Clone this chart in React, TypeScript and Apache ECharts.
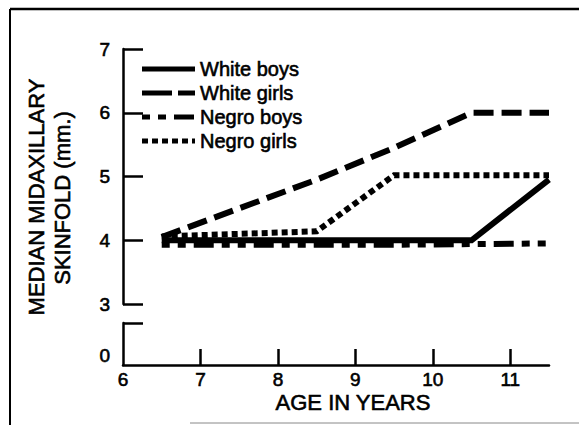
import React, { useEffect, useRef } from "react";
import * as echarts from "echarts";

const ages = [6.5, 7.5, 8.5, 9.5, 10.5, 11.5];
const whiteBoys = [4.0, 4.0, 4.0, 4.0, 4.0, 4.95];
const whiteGirls = [4.05, 4.5, 4.95, 5.45, 6.0, 6.0];
const negroBoys = [3.93, 3.93, 3.93, 3.93, 3.94, 3.95];
const negroGirls = [4.06, 4.1, 4.14, 5.02, 5.02, 5.02];
const xTickLabels = [6, 7, 8, 9, 10, 11];
const xTickMarks = [7, 8, 9, 10, 11];
const seriesNames = ["White boys", "White girls", "Negro boys", "Negro girls"];

const FONT = "'Liberation Sans', Arial, sans-serif";

export default function App() {
  const ref = useRef<HTMLDivElement>(null);
  useEffect(() => {
    if (!ref.current) return;
    const chart = echarts.init(ref.current, undefined, { renderer: "svg" });
    const pts = (vals: number[]) => ages.map((a, i) => [a, vals[i]]);
    const black = "#000";
    const lineBase = (name: string, vals: number[], type: any, width: number, z: number) => ({
      name,
      type: "line",
      xAxisIndex: 0,
      yAxisIndex: 0,
      data: pts(vals),
      symbol: "none",
      silent: true,
      z,
      lineStyle: { color: black, width, type, cap: "butt", join: "miter" },
      itemStyle: { color: black },
    });
    const heavy = { textBorderColor: black, textBorderWidth: 0.6 };
    const legendDashes: (number[] | null)[] = [null, [30, 6, 17], [8, 8, 8, 8, 20], [6, 4]];
    const legendGraphics: any[] = [];
    seriesNames.forEach((name, i) => {
      const y = 69 + i * 24;
      legendGraphics.push({
        type: "line",
        shape: { x1: 142, y1: y, x2: 195, y2: y },
        style: { stroke: black, lineWidth: 5, lineDash: legendDashes[i] || undefined, lineCap: "butt" },
      });
      legendGraphics.push({
        type: "text",
        x: 200,
        y,
        style: { text: name, font: `20px ${FONT}`, fill: black, stroke: black, lineWidth: 0.6, align: "left", verticalAlign: "middle" },
      });
    });
    chart.setOption({
      animation: false,
      backgroundColor: "#fff",
      textStyle: { fontFamily: FONT },
      grid: [
        { left: 123, right: 30, top: 49, height: 255 },
        { left: 123, right: 30, top: 323, height: 42 },
      ],
      xAxis: [
        { type: "value", gridIndex: 0, min: 6, max: 11.5, show: false },
        {
          type: "value",
          gridIndex: 1,
          min: 6,
          max: 11.5,
          axisLine: { show: true, onZero: false, lineStyle: { color: black, width: 2.5 } },
          axisTick: { show: true, inside: true, length: 16, customValues: xTickMarks, lineStyle: { color: black, width: 2.5 } },
          axisLabel: { show: true, customValues: xTickLabels, color: black, fontSize: 19, lineHeight: 19, margin: 5, fontFamily: FONT, ...heavy },
          splitLine: { show: false },
        },
      ],
      yAxis: [
        {
          type: "value",
          gridIndex: 0,
          min: 3,
          max: 7,
          interval: 1,
          axisLine: { show: true, lineStyle: { color: black, width: 2.5 } },
          axisTick: { show: true, inside: true, length: 20, lineStyle: { color: black, width: 2.5 } },
          axisLabel: { color: black, fontSize: 19, margin: 13, fontFamily: FONT, ...heavy },
          splitLine: { show: false },
        },
        {
          type: "value",
          gridIndex: 1,
          min: 0,
          max: 1,
          axisLine: { show: true, lineStyle: { color: black, width: 2.5 } },
          axisTick: { show: true, inside: true, length: 20, customValues: [1], lineStyle: { color: black, width: 2.5 } },
          axisLabel: { customValues: [0], color: black, fontSize: 19, margin: 13, verticalAlign: "bottom", fontFamily: FONT, ...heavy },
          splitLine: { show: false },
        },
      ],
      series: [
        lineBase(seriesNames[2], negroBoys, [8, 8, 8, 8, 20, 8], 6, 2),
        lineBase(seriesNames[0], whiteBoys, "solid", 6, 3),
        lineBase(seriesNames[1], whiteGirls, [20, 8], 6, 4),
        lineBase(seriesNames[3], negroGirls, [6, 4], 6, 5),
      ],
      graphic: [
        { type: "line", shape: { x1: 10, y1: 9, x2: 579, y2: 9 }, style: { stroke: black, lineWidth: 2.5 } },
        { type: "line", shape: { x1: 10, y1: 9, x2: 10, y2: 425 }, style: { stroke: black, lineWidth: 2 } },
        { type: "line", shape: { x1: 190, y1: 423, x2: 579, y2: 423 }, style: { stroke: "#888", lineWidth: 1 } },
        ...legendGraphics,
        {
          type: "text",
          x: 36,
          y: 197,
          rotation: Math.PI / 2,
          style: { text: "MEDIAN MIDAXILLARY", font: `22px ${FONT}`, fill: black, stroke: black, lineWidth: 0.6, align: "center", verticalAlign: "middle" },
        },
        {
          type: "text",
          x: 62,
          y: 198,
          rotation: Math.PI / 2,
          style: { text: "SKINFOLD (mm.)", font: `22px ${FONT}`, fill: black, stroke: black, lineWidth: 0.6, align: "center", verticalAlign: "middle" },
        },
        {
          type: "text",
          x: 353,
          y: 402,
          style: { text: "AGE IN YEARS", font: `22px ${FONT}`, fill: black, stroke: black, lineWidth: 0.6, align: "center", verticalAlign: "middle" },
        },
      ],
    });
    return () => chart.dispose();
  }, []);
  return <div ref={ref} style={{ position: "fixed", left: 0, top: 0, width: 579, height: 425 }} />;
}
